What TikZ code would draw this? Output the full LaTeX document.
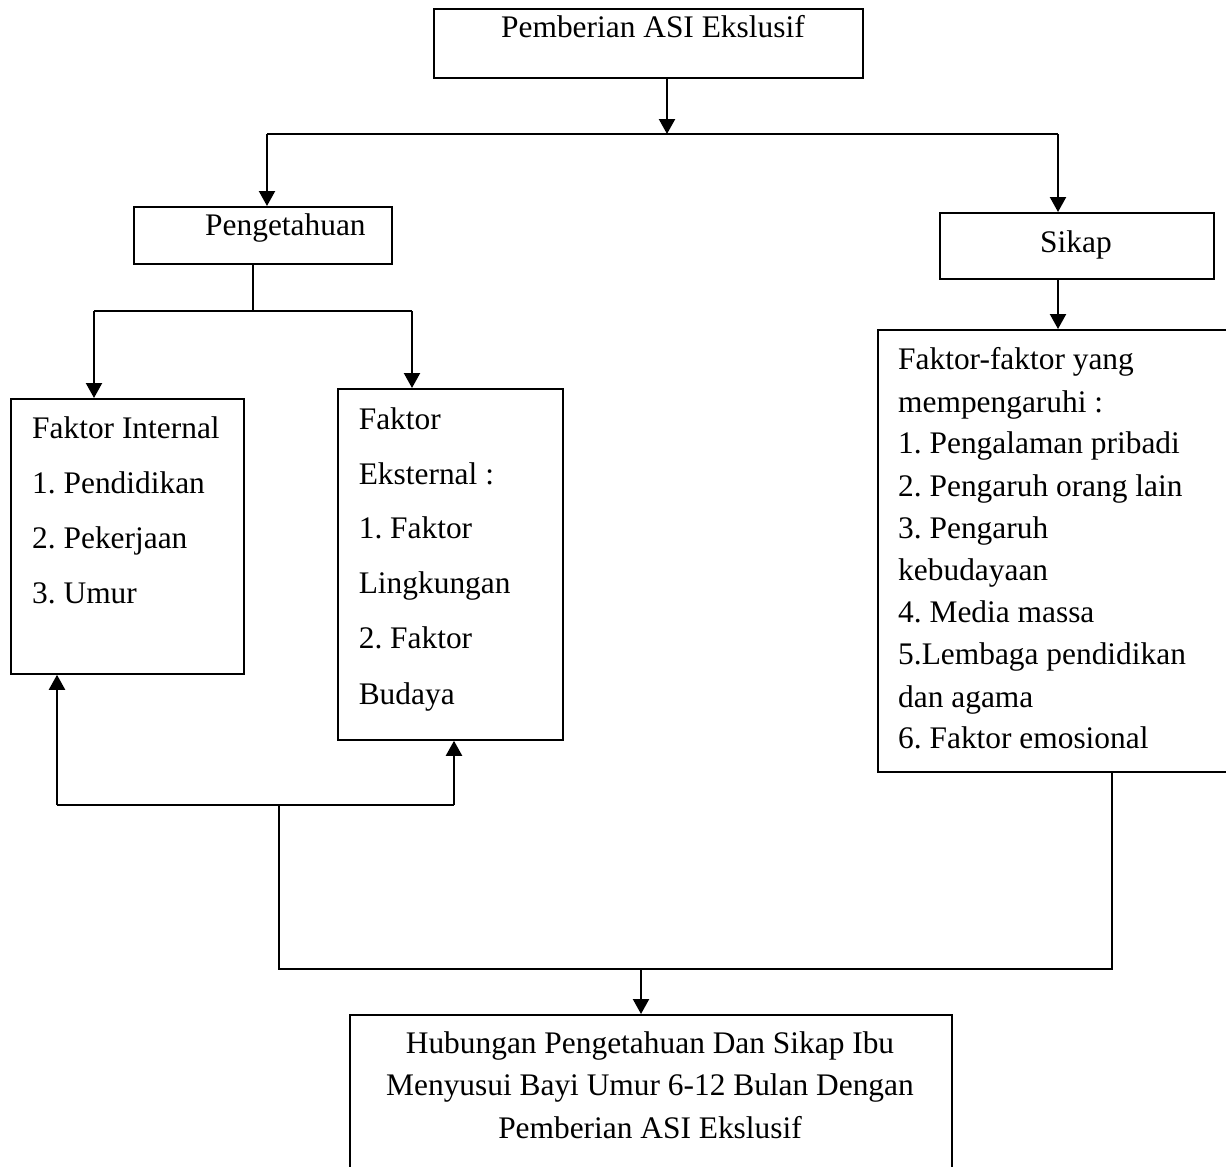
\documentclass[tikz,border=0pt]{standalone}
\usepackage{fontspec}
\setmainfont{Liberation Serif}
\usetikzlibrary{arrows.meta}
\frenchspacing
\begin{document}
\frenchspacing
\begin{tikzpicture}[x=1pt,y=-1pt,
  box/.style={draw, line width=1.8pt, inner sep=0pt, anchor=north west},
  txt/.style={anchor=base west, inner sep=0pt, font=\fontsize{31.4}{36}\selectfont},
  ctxt/.style={anchor=base, inner sep=0pt, font=\fontsize{31.4}{36}\selectfont},
  ln/.style={line width=2pt},
  arr/.style={line width=2.2pt, -{Triangle[width=16pt,length=15pt]}}]
\useasboundingbox (0,0) rectangle (1226,1167);
\clip (0,0) rectangle (1226,1167);

% boxes
\node[box, minimum width=429pt, minimum height=69pt] (top) at (433,8) {};
\node[box, minimum width=258pt, minimum height=57pt] (peng) at (133,206) {};
\node[box, minimum width=274pt, minimum height=66pt] (sikap) at (939,212) {};
\node[box, minimum width=233pt, minimum height=275pt] (intern) at (10,398) {};
\node[box, minimum width=225pt, minimum height=351pt] (ekst) at (337,388) {};
\node[box, minimum width=360pt, minimum height=442pt] (faktor) at (877,329) {};
\node[box, minimum width=602pt, minimum height=200pt] (hub) at (349,1014) {};

% texts
\node[txt] (ttop) at (501,37) {Pemberian ASI Ekslusif};
\node[txt] (tpeng) at (205,235) {Pengetahuan};
\node[txt] (tsikap) at (1040,252) {Sikap};

\node[txt] (ti1) at (32,438) {Faktor Internal};
\node[txt] (ti2) at (32,493) {1. Pendidikan};
\node[txt] (ti3) at (32,548) {2. Pekerjaan};
\node[txt] (ti4) at (32,603) {3. Umur};

\node[txt] (te1) at (358.6,429) {Faktor};
\node[txt] (te2) at (358.6,484) {Eksternal :};
\node[txt] (te3) at (358.6,538) {1. Faktor};
\node[txt] (te4) at (358.6,593) {Lingkungan};
\node[txt] (te5) at (358.6,648) {2. Faktor};
\node[txt] (te6) at (358.6,704) {Budaya};

\node[txt] (tf1) at (898,369) {Faktor-faktor yang};
\node[txt] (tf2) at (898,412) {mempengaruhi :};
\node[txt] (tf3) at (898,453) {1. Pengalaman pribadi};
\node[txt] (tf4) at (898,496) {2. Pengaruh orang lain};
\node[txt] (tf5) at (898,538) {3. Pengaruh};
\node[txt] (tf6) at (898,580) {kebudayaan};
\node[txt] (tf7) at (898,622) {4. Media massa};
\node[txt] (tf8) at (898,664) {5.Lembaga pendidikan};
\node[txt] (tf9) at (898,707) {dan agama};
\node[txt] (tf10) at (898,748) {6. Faktor emosional};

\node[ctxt] (th1) at (650,1053) {Hubungan Pengetahuan Dan Sikap Ibu};
\node[ctxt] (th2) at (650,1095.5) {Menyusui Bayi Umur 6-12 Bulan Dengan};
\node[ctxt] (th3) at (650,1138) {Pemberian ASI Ekslusif};

% junctions
\coordinate (jT) at (667,134);
\coordinate (jL) at (267,134);
\coordinate (jR) at (1058,134);
\coordinate (jP) at (253,311);
\coordinate (jPL) at (94,311);
\coordinate (jPR) at (412,311);
\coordinate (jBL) at (57,805);
\coordinate (jBR) at (454,805);
\coordinate (jB) at (279,805);
\coordinate (jH) at (279,969);
\coordinate (jF) at (1112,969);
\coordinate (jD) at (641,969);

% connectors
\draw[arr] (top.south -| jT) -- (jT);
\draw[ln] (jL) -- (jR);
\draw[arr] (jL) -- (jL |- peng.north);
\draw[arr] (jR) -- (jR |- sikap.north);
\draw[arr] (jR |- sikap.south) -- (jR |- faktor.north);

\draw[line width=1.6pt] (jP |- peng.south) -- (jP);
\draw[ln] (jPL) -- (jPR);
\draw[arr] (jPL) -- (jPL |- intern.north);
\draw[arr] (jPR) -- (jPR |- ekst.north);

\draw[arr] (jBL) -- (jBL |- intern.south);
\draw[arr] (jBR) -- (jBR |- ekst.south);
\draw[ln] (jBL) -- (jBR);
\draw[ln] (jB) -- (jH) -- (jF) -- (jF |- faktor.south);
\draw[arr] (jD) -- (jD |- hub.north);
\end{tikzpicture}
\end{document}
